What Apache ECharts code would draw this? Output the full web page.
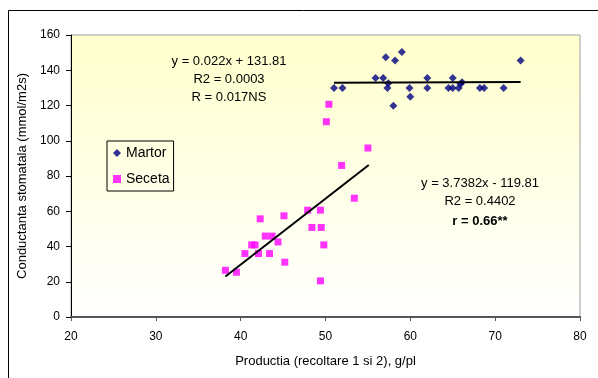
<!DOCTYPE html>
<html>
<head>
<meta charset="utf-8">
<script src="https://cdn.jsdelivr.net/npm/echarts@6/dist/echarts.min.js"></script>
<style>
  html, body { margin: 0; padding: 0; background: #fff; }
  #chart { width: 598px; height: 378px; }
</style>
</head>
<body>
<div id="chart"></div>
<script>
// Martor (control) points
const martorX = [51.0, 52.0, 55.9, 56.8, 57.1, 57.3, 57.4, 58.2, 59.0, 58.0, 59.9, 60.0,
  62.0, 62.0, 64.5, 65.0, 65.0, 65.7, 65.9, 66.1, 68.2, 68.7, 71.0, 73.0];
const martorY = [130, 130, 135.6, 135.6, 147.4, 130, 132.6, 145.5, 150.4, 119.9, 130, 125,
  135.6, 130, 130, 135.6, 130, 130, 132.2, 133.2, 130, 130, 130, 145.5];

// Seceta (drought) points
const secetaX = [50.4, 50.1, 55.0, 51.9, 53.4, 47.9, 49.4, 42.3, 45.1, 48.4, 49.5, 42.9,
  43.7, 44.4, 41.3, 41.7, 49.8, 40.5, 42.1, 43.4, 45.2, 38.2, 39.5, 49.4];
const secetaY = [120.7, 110.8, 95.9, 86.0, 67.4, 60.6, 60.6, 55.7, 57.4, 50.8, 50.8, 45.9,
  45.9, 42.6, 40.9, 40.9, 40.9, 36.0, 36.0, 36.0, 31.1, 26.5, 25.4, 20.5];

// trend line end points as drawn
const martorTrend = [[51.0, 132.9], [73.0, 133.4]];
const secetaTrend = [[38.2, 23.0], [55.1, 86.2]];

const xTicks = [20, 30, 40, 50, 60, 70, 80];
const yTicks = [0, 20, 40, 60, 80, 100, 120, 140, 160];

const eqMartor = ['y = 0.022x + 131.81', 'R2 = 0.0003', 'R = 0.017NS'];
const eqSeceta = ['y = 3.7382x - 119.81', 'R2 = 0.4402', 'r = 0.66**'];

const font = '"Liberation Sans", Arial, sans-serif';

const chart = echarts.init(document.getElementById('chart'));

function eqText(x, y, text, bold) {
  return {
    type: 'text',
    x: x,
    y: y,
    style: {
      text: text,
      fill: '#000',
      font: (bold ? 'bold ' : '') + '13px ' + font,
      textAlign: 'center',
      textVerticalAlign: 'middle'
    },
    z: 10
  };
}

chart.setOption({
  animation: false,
  textStyle: { fontFamily: font },
  grid: {
    left: 71,
    right: 18,
    top: 35,
    bottom: 61,
    show: true,
    borderColor: '#a0a0a0',
    borderWidth: 1,
    backgroundColor: new echarts.graphic.LinearGradient(0, 0, 0, 1, [
      { offset: 0, color: '#ffffcc' },
      { offset: 1, color: '#ffffff' }
    ])
  },
  legend: {
    left: 107,
    top: 141,
    orient: 'vertical',
    borderColor: '#000',
    borderWidth: 1,
    borderRadius: 0,
    padding: [5, 4, 5, 6],
    itemGap: 12,
    itemWidth: 8,
    itemHeight: 8,
    textStyle: { fontSize: 14, color: '#000', fontFamily: font },
    data: [
      { name: 'Martor', icon: 'diamond' },
      { name: 'Seceta', icon: 'rect' }
    ]
  },
  xAxis: {
    type: 'value',
    min: xTicks[0],
    max: xTicks[xTicks.length - 1],
    interval: 10,
    name: 'Productia (recoltare 1 si 2), g/pl',
    nameLocation: 'middle',
    nameGap: 38,
    nameTextStyle: { fontSize: 13, color: '#000', fontFamily: font },
    axisLine: { show: true, onZero: false, lineStyle: { color: '#555', width: 2 } },
    axisTick: { show: true, length: 4, lineStyle: { color: '#555' } },
    axisLabel: { fontSize: 12, color: '#000', margin: 14, fontFamily: font },
    splitLine: { show: false }
  },
  yAxis: {
    type: 'value',
    min: yTicks[0],
    max: yTicks[yTicks.length - 1],
    interval: 20,
    name: 'Conductanta stomatala (mmol/m2s)',
    nameLocation: 'middle',
    nameGap: 33,
    nameTextStyle: { fontSize: 13, color: '#000', fontFamily: font },
    axisLine: { show: true, onZero: false, lineStyle: { color: '#000', width: 1 } },
    axisTick: { show: true, length: 5, lineStyle: { color: '#000' } },
    axisLabel: { fontSize: 12, color: '#000', margin: 11, fontFamily: font },
    splitLine: { show: false }
  },
  series: [
    {
      name: 'Martor',
      type: 'scatter',
      symbol: 'diamond',
      symbolSize: 8,
      itemStyle: { color: '#000080' },
      data: martorX.map((x, i) => [x, martorY[i]]),
      z: 3
    },
    {
      name: 'Seceta',
      type: 'scatter',
      symbol: 'rect',
      symbolSize: 7,
      itemStyle: { color: '#ff00ff' },
      data: secetaX.map((x, i) => [x, secetaY[i]]),
      z: 3
    },
    {
      name: 'trend Martor',
      type: 'line',
      symbol: 'none',
      lineStyle: { color: '#000', width: 2 },
      data: martorTrend,
      z: 4
    },
    {
      name: 'trend Seceta',
      type: 'line',
      symbol: 'none',
      lineStyle: { color: '#000', width: 2 },
      data: secetaTrend,
      z: 4
    }
  ],
  graphic: [
    {
      type: 'rect',
      shape: { x: 8.5, y: 10.5, width: 620, height: 400 },
      style: { fill: null, stroke: '#000', lineWidth: 1 },
      silent: true
    },
    eqText(229, 61, eqMartor[0]),
    eqText(229, 79, eqMartor[1]),
    eqText(229, 97, eqMartor[2]),
    eqText(480, 183, eqSeceta[0]),
    eqText(480, 201, eqSeceta[1]),
    eqText(480, 221, eqSeceta[2], true)
  ]
});
</script>
</body>
</html>
